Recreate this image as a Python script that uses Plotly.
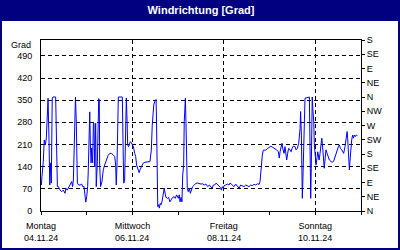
import pandas as pd
import plotly.graph_objects as go

start = "2024-11-04 00:00"

hours = [0.0, 0.2, 0.5, 1.2, 1.7, 2.3, 2.8, 3.2, 3.7, 4.2, 4.6, 5.1, 5.4, 5.9, 6.3, 7.7, 8.0, 8.2, 8.6, 9.1,
         10.0, 10.9, 11.7, 12.6, 13.1, 13.8, 14.5, 15.2, 16.1, 16.6, 17.0, 17.7, 18.1, 18.5, 19.1, 19.8,
         20.5, 21.4, 21.9, 22.6, 23.1, 23.5, 24.0, 24.5, 24.8, 25.2, 25.6, 25.9, 26.3, 26.6, 27.1, 27.5,
         27.8, 28.2, 28.7, 29.0, 29.6, 30.3, 30.6, 30.8, 31.3, 32.0, 32.7, 33.4, 34.3, 35.2, 36.1, 36.9,
         37.8, 38.7, 39.2, 39.5, 39.9, 40.3, 40.6, 42.7, 42.9, 43.1, 43.4, 43.9, 44.5, 44.8, 45.2, 45.5,
         46.0, 46.9, 47.4, 48.5, 49.2, 49.7, 50.2, 50.9, 51.5, 52.0, 52.7, 53.6, 54.6, 56.2, 57.2, 57.6,
         57.9, 58.4, 58.8, 59.2, 59.7, 60.4, 60.6, 60.9, 61.3, 61.8, 62.1, 62.6, 63.0, 63.5, 64.2, 64.7,
         65.3, 65.6, 66.5, 67.0, 67.7, 68.3, 69.1, 70.0, 70.5, 71.2, 71.8, 72.1, 72.6, 73.0, 73.5, 74.0,
         74.4, 74.9, 75.2, 75.8, 76.1, 76.5, 76.8, 77.3, 77.9, 78.4, 78.9, 79.6, 80.5, 81.4, 82.3, 83.1,
         84.0, 84.9, 85.7, 86.6, 87.5, 88.4, 89.3, 89.8, 90.5, 91.2, 91.9, 93.5, 94.3, 94.7, 95.2, 95.7,
         96.1, 97.0, 97.8, 98.7, 99.2, 99.9, 100.4, 101.3, 102.2, 103.1, 104.0, 104.8, 105.7, 106.6,
         107.5, 108.3, 109.2, 110.1, 110.9, 111.8, 112.7, 113.6, 114.5, 115.0, 115.5, 116.2, 116.7,
         118.0, 118.8, 119.7, 120.6, 121.4, 122.0, 122.9, 123.7, 124.6, 125.1, 125.5, 126.0, 126.5,
         126.9, 127.6, 128.1, 128.6, 129.0, 129.5, 130.0, 130.7, 131.3, 131.8, 132.5, 133.4, 133.9,
         134.6, 135.3, 136.0, 136.3, 136.7, 136.9, 137.2, 137.6, 137.9, 138.2, 138.6, 140.9, 141.0,
         141.2, 141.6, 141.9, 142.3, 142.4, 142.8, 143.2, 143.5, 143.9, 144.4, 144.9, 145.3, 145.6,
         146.0, 146.5, 147.0, 147.4, 147.7, 148.1, 148.4, 148.7, 149.1, 149.6, 150.2, 150.8, 151.4,
         152.3, 153.1, 153.7, 154.4, 154.9, 155.4, 156.1, 156.6, 157.2, 157.9, 158.6, 158.9, 159.6,
         160.1, 160.7, 161.0, 161.3, 161.7, 161.9, 162.2, 162.6, 163.1, 163.6, 164.0, 164.5, 165.0,
         165.5, 166.1]

direction = [93, 82, 108, 156, 224, 209, 231, 288, 356, 224, 82, 152, 88, 357, 360, 360, 288, 203, 77, 77,
             66, 61, 66, 56, 72, 66, 77, 82, 93, 77, 98, 288, 360, 288, 88, 82,
             82, 85, 77, 77, 56, 28, 45, 77, 124, 224, 313, 215, 152, 199, 152, 277,
             277, 139, 277, 77, 156, 355, 350, 145, 77, 93, 130, 145, 161, 175, 182, 182,
             178, 172, 145, 82, 145, 282, 360, 360, 282, 145, 88, 93, 282, 357, 282, 209,
             203, 219, 216, 203, 182, 172, 145, 130, 121, 130, 140, 151, 154, 154, 156, 177,
             190, 270, 315, 335, 345, 352, 300, 93, 14, 20, 9, 24, 20, 29, 61, 72,
             51, 43, 40, 43, 29, 35, 43, 45, 40, 51, 45, 40, 51, 29, 43, 29,
             114, 145, 282, 356, 282, 145, 72, 61, 72, 56, 66, 77, 82, 88, 88, 86,
             85, 86, 82, 85, 77, 82, 77, 72, 82, 82, 88, 77, 74, 66, 77, 72,
             80, 82, 85, 82, 88, 85, 82, 77, 85, 80, 72, 82, 79, 77,
             82, 80, 77, 82, 80, 84, 82, 86, 84, 93, 140, 177, 192,
             192, 197, 202, 204, 202, 200, 197, 193, 187, 167, 187, 203, 214,
             198, 182, 203, 177, 161, 182, 198, 193, 187, 198, 205, 203, 193,
             198, 214, 260, 314, 240, 124, 40, 124, 187, 240, 356, 360, 293,
             135, 40, 135, 240, 360, 314, 282, 209, 161, 145, 168, 187, 177,
             161, 182, 203, 230, 214, 182, 145, 135, 161, 193, 182, 172, 161,
             156, 154, 158, 172, 187, 193, 203, 209, 198, 193, 187, 182, 203,
             224, 251, 230, 187, 168, 130, 156, 193, 224, 240, 230, 240, 235,
             240, 238]

left_ticks = [0, 70, 140, 210, 280, 350, 420, 490]
compass_vals = [0, 45, 90, 135, 180, 225, 270, 315, 360, 405, 450, 495, 540]
compass_text = ["N", "NE", "E", "SE", "S", "SW", "W", "NW", "N", "NE", "E", "SE", "S"]
day_names = ["Montag", "Mittwoch", "Freitag", "Sonntag"]
day_dates = ["04.11.24", "06.11.24", "08.11.24", "10.11.24"]
day_ticks = ["2024-11-04", "2024-11-06", "2024-11-08", "2024-11-10"]

times = pd.Timestamp(start) + pd.to_timedelta(hours, unit="h")

NAVY = "#000080"
FONT = "Liberation Sans"

fig = go.Figure()
fig.add_trace(go.Scatter(x=times, y=direction, mode="lines",
                         line=dict(color="#0000FF", width=1), hoverinfo="skip",
                         showlegend=False))
fig.add_trace(go.Scatter(x=times, y=direction, mode="lines", yaxis="y2",
                         line=dict(color="rgba(0,0,0,0)", width=0), hoverinfo="skip",
                         showlegend=False))

fig.update_layout(
    width=400, height=250,
    margin=dict(l=41, r=39, t=40, b=39),
    paper_bgcolor=NAVY, plot_bgcolor="white",
    font=dict(family=FONT, size=9, color="black"),
    title=dict(text="<b>Windrichtung [Grad]</b>", x=0.5, xref="paper", xanchor="center",
               y=1 - 10.5 / 250, yref="container", yanchor="middle",
               font=dict(family=FONT, size=11, color="white")),
    xaxis=dict(type="date", range=["2024-11-04 00:00", "2024-11-11 00:00"],
               tickvals=day_ticks, ticktext=day_names,
               ticks="outside", ticklen=3, tickcolor="black",
               showgrid=True, gridcolor="black", gridwidth=1, griddash="4px,3px",
               showline=True, linecolor="black", linewidth=1, mirror=True,
               zeroline=False, ticklabelstandoff=3,
               minor=dict(dtick=86400000, ticks="outside", ticklen=3, tickcolor="black",
                          showgrid=False)),
    yaxis=dict(range=[0, 540], tickvals=left_ticks, ticks="", showgrid=True,
               gridcolor="black", gridwidth=1, griddash="4px,3px",
               showline=True, linecolor="black", linewidth=1, mirror=True,
               zeroline=False, ticklabelstandoff=6),
    yaxis2=dict(range=[0, 540], overlaying="y", side="right", tickvals=compass_vals,
                ticktext=compass_text, ticks="outside", ticklen=3, tickcolor="black",
                showgrid=False, showline=False, zeroline=False),
    shapes=[dict(type="rect", xref="paper", yref="paper", layer="below",
                 x0=(2 - 41) / 320, x1=(398 - 41) / 320,
                 y0=(211 - 248) / 171, y1=(211 - 21) / 171,
                 fillcolor="white", line=dict(width=0))],
)

fig.add_annotation(text="Grad", xref="paper", yref="y", x=0, y=524, xanchor="right",
                   yanchor="middle", xshift=-8, showarrow=False,
                   font=dict(family=FONT, size=9, color="black"))
for d, t in zip(day_dates, day_ticks):
    fig.add_annotation(text=t and d, xref="x", yref="paper", x=t, y=(211 - 238) / 171,
                       xanchor="center", yanchor="middle", showarrow=False,
                       font=dict(family=FONT, size=9, color="black"))

fig.write_html("out.html")
